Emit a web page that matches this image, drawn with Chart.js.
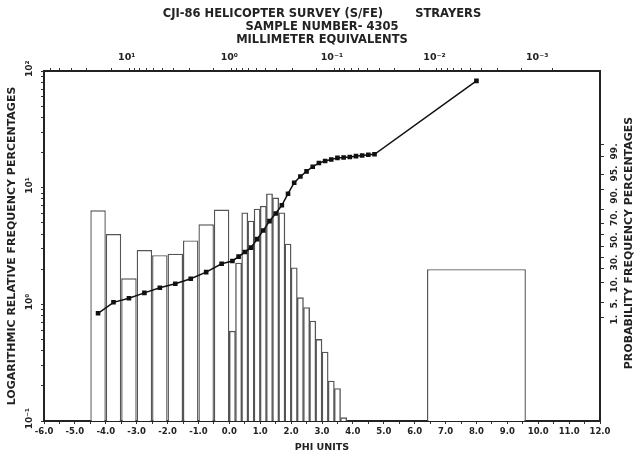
<!DOCTYPE html>
<html>
<head>
<meta charset="utf-8">
<script src="https://cdn.jsdelivr.net/npm/chart.js@4.4.1/dist/chart.umd.min.js"></script>
<style>
  html, body { margin: 0; padding: 0; background: #fff; }
  #wrap { width: 639px; height: 465px; }
</style>
</head>
<body>
<div id="wrap"><canvas id="chart"></canvas></div>
<script>
// histogram: bin centres (phi) and relative frequency (%)
const coarsePhi  = [-4.25, -3.75, -3.25, -2.75, -2.25, -1.75, -1.25, -0.75, -0.25];
const coarseFreq = [6.4, 4.0, 1.67, 2.92, 2.64, 2.72, 3.53, 4.85, 6.5];
const finePhi  = [0.1, 0.3, 0.5, 0.7, 0.9, 1.1, 1.3, 1.5, 1.7, 1.9, 2.1, 2.3, 2.5, 2.7, 2.9, 3.1, 3.3, 3.5, 3.7];
const fineFreq = [0.59, 2.26, 6.1, 5.18, 6.56, 6.95, 8.87, 8.18, 6.1, 3.29, 2.06, 1.14, 0.94, 0.72, 0.5, 0.39, 0.22, 0.19, 0.107];
const panPhi  = [8.0];
const panFreq = [2.0];
// bin widths in phi
const coarseWidth = 0.5, fineWidth = 0.2, panWidth = 3.2;

// cumulative curve (probability %)
const cumPhi = [-4.25, -3.75, -3.25, -2.75, -2.25, -1.75, -1.25, -0.75, -0.25,
  0.1, 0.3, 0.5, 0.7, 0.9, 1.1, 1.3, 1.5, 1.7, 1.9, 2.1, 2.3, 2.5, 2.7, 2.9, 3.1, 3.3, 3.5, 3.7,
  3.9, 4.1, 4.3, 4.5, 4.7, 8.0];
const cumPct = [6.2, 9.9, 11.6, 14.2, 17.0, 19.4, 22.7, 27.5, 34.2,
  36.6, 40.4, 44.5, 48.5, 56.2, 63.9, 71.5, 77.1, 82.4, 88.4, 92.6, 94.4, 95.6, 96.5, 97.1, 97.4, 97.6, 97.8, 97.85,
  97.9, 98.0, 98.07, 98.15, 98.2, 99.992];

// axis ticks
const phiMajor = [-6, -5, -4, -3, -2, -1, 0, 1, 2, 3, 4, 5, 6, 7, 8, 9, 10, 11, 12];
const freqTicks = [0.1, 1, 10, 100];
const freqLabels = ['10\u207B\u00B9', '10\u2070', '10\u00B9', '10\u00B2'];
const mmTicks = [10, 1, 0.1, 0.01, 0.001];
const mmLabels = ['10\u00B9', '10\u2070', '10\u207B\u00B9', '10\u207B\u00B2', '10\u207B\u00B3'];
const probTicks = [5, 10, 20, 30, 40, 50, 60, 70, 80, 90, 95, 98, 99];
const probText = '1.  5.  10.  30.  50.  70.  90.  95.  99.';

const FONT = '"DejaVu Sans", sans-serif';
const INK = '#222';

// inverse normal (probability paper)
function probit(pct) {
  const p = pct / 100;
  const a = [-3.969683028665376e+01, 2.209460984245205e+02, -2.759285104469687e+02, 1.383577518672690e+02, -3.066479806614716e+01, 2.506628277459239e+00];
  const b = [-5.447609879822406e+01, 1.615858368580409e+02, -1.556989798598866e+02, 6.680131188771972e+01, -1.328068155288572e+01];
  const c = [-7.784894002430293e-03, -3.223964580411365e-01, -2.400758277161838e+00, -2.549732539343734e+00, 4.374664141464968e+00, 2.938163982698783e+00];
  const d = [7.784695709041462e-03, 3.224671290700398e-01, 2.445134137142996e+00, 3.754408661907416e+00];
  const lo = 0.02425;
  let q, r;
  if (p < lo) {
    q = Math.sqrt(-2 * Math.log(p));
    return (((((c[0]*q+c[1])*q+c[2])*q+c[3])*q+c[4])*q+c[5]) / ((((d[0]*q+d[1])*q+d[2])*q+d[3])*q+1);
  }
  if (p <= 1 - lo) {
    q = p - 0.5; r = q * q;
    return (((((a[0]*r+a[1])*r+a[2])*r+a[3])*r+a[4])*r+a[5])*q / (((((b[0]*r+b[1])*r+b[2])*r+b[3])*r+b[4])*r+1);
  }
  q = Math.sqrt(-2 * Math.log(1 - p));
  return -(((((c[0]*q+c[1])*q+c[2])*q+c[3])*q+c[4])*q+c[5]) / ((((d[0]*q+d[1])*q+d[2])*q+d[3])*q+1);
}

const toPoints = (xs, ys) => xs.map((x, i) => ({ x: x, y: ys[i] }));

function barSet(xs, ys, width) {
  return {
    type: 'bar',
    data: toPoints(xs, ys),
    xAxisID: 'x',
    yAxisID: 'y',
    grouped: false,
    categoryPercentage: 1,
    barPercentage: width / fineWidth,
    backgroundColor: '#fff',
    borderColor: '#555',
    borderWidth: 1.4,
    order: 2
  };
}

// right hand probability labels, read bottom to top
const sideText = {
  id: 'sideText',
  afterDraw(chart) {
    const { ctx, chartArea } = chart;
    const cy = (chartArea.top + chartArea.bottom) / 2;
    ctx.save();
    ctx.fillStyle = INK;
    ctx.textAlign = 'center';
    ctx.textBaseline = 'middle';
    ctx.font = 'bold 9px ' + FONT;
    ctx.translate(chartArea.right + 15, cy - 12);
    ctx.rotate(-Math.PI / 2);
    ctx.fillText(probText, 0, 0);
    ctx.restore();
    ctx.save();
    ctx.fillStyle = INK;
    ctx.textAlign = 'center';
    ctx.textBaseline = 'middle';
    ctx.font = 'bold 11px ' + FONT;
    ctx.translate(chartArea.right + 29, cy - 3);
    ctx.rotate(-Math.PI / 2);
    ctx.fillText('PROBABILITY FREQUENCY PERCENTAGES', 0, 0);
    ctx.restore();
  }
};

const axisBorder = { display: true, color: INK, width: 2 };

new Chart(document.getElementById('chart'), {
  type: 'bar',
  data: {
    datasets: [
      barSet(coarsePhi, coarseFreq, coarseWidth),
      barSet(finePhi, fineFreq, fineWidth),
      barSet(panPhi, panFreq, panWidth),
      {
        type: 'line',
        data: toPoints(cumPhi, cumPct.map(probit)),
        xAxisID: 'x',
        yAxisID: 'yp',
        borderColor: '#111',
        borderWidth: 1.5,
        pointStyle: 'rect',
        pointRadius: 2.2,
        pointBackgroundColor: '#111',
        pointBorderColor: '#111',
        tension: 0,
        order: 0
      }
    ]
  },
  options: {
    responsive: true,
    maintainAspectRatio: false,
    animation: false,
    layout: { padding: 0 },
    plugins: { legend: { display: false }, tooltip: { enabled: false } },
    scales: {
      x: {
        type: 'linear', position: 'bottom', min: -6, max: 12, offset: false,
        afterBuildTicks: s => {
          const t = [];
          phiMajor.forEach((v, i) => { t.push({ value: v }); if (i < phiMajor.length - 1) t.push({ value: v + 0.5 }); });
          s.ticks = t;
        },
        ticks: {
          autoSkip: false, minRotation: 0, maxRotation: 0, padding: 3, color: INK,
          font: { family: FONT, size: 8.5, weight: 'bold' },
          callback: v => phiMajor.includes(v) ? v.toFixed(1) : ''
        },
        grid: { display: true, drawOnChartArea: false, drawTicks: true, tickLength: 3, color: '#333', offset: false },
        border: axisBorder,
        title: { display: true, text: 'PHI UNITS', color: INK, font: { family: FONT, size: 9.5, weight: 'bold', lineHeight: '11px' }, padding: { top: 0, bottom: 11.5 } },
        afterFit: s => { s.height = 44; }
      },
      x2: {
        type: 'linear', position: 'top', min: -6, max: 12, offset: false,
        afterBuildTicks: s => {
          const t = [];
          mmTicks.forEach(mm => { for (let m = 1; m <= 9; m++) { const v = -Math.log2(mm * m); if (v >= -6 && v <= 12) t.push({ value: v }); } });
          s.ticks = t.sort((a, b) => a.value - b.value);
        },
        ticks: {
          autoSkip: false, minRotation: 0, maxRotation: 0, padding: 5, color: INK,
          font: { family: FONT, size: 9.5, weight: 'bold' },
          callback: v => {
            const i = mmTicks.findIndex(mm => Math.abs(-Math.log2(mm) - v) < 1e-9);
            return i >= 0 ? mmLabels[i] : '';
          }
        },
        grid: { display: true, drawOnChartArea: false, drawTicks: true, tickLength: 3, color: '#333' },
        border: axisBorder,
        title: {
          display: true,
          text: ['CJI-86 HELICOPTER SURVEY (S/FE)        STRAYERS', 'SAMPLE NUMBER- 4305', 'MILLIMETER EQUIVALENTS'],
          color: INK, font: { family: FONT, size: 11.5, weight: 'bold', lineHeight: '13px' },
          padding: { top: 7.5, bottom: 0 }
        },
        afterFit: s => { s.height = 71; }
      },
      y: {
        type: 'logarithmic', position: 'left', min: 0.1, max: 100,
        afterBuildTicks: s => {
          const t = [];
          [0.1, 1, 10].forEach(dec => { for (let m = 1; m <= 9; m++) t.push({ value: +(dec * m).toPrecision(6) }); });
          t.push({ value: 100 });
          s.ticks = t;
        },
        ticks: {
          autoSkip: false, minRotation: 90, maxRotation: 90, crossAlign: 'center', padding: -2, color: INK,
          font: { family: FONT, size: 9, weight: 'bold' },
          callback: v => {
            const i = freqTicks.findIndex(f => Math.abs(f - v) < 1e-9);
            return i >= 0 ? '\u2002' + freqLabels[i] : '';
          }
        },
        grid: { display: true, drawOnChartArea: false, drawTicks: true, tickLength: 3, color: '#333' },
        border: axisBorder,
        title: { display: true, text: 'LOGARITHMIC RELATIVE FREQUENCY PERCENTAGES', color: INK, font: { family: FONT, size: 11, weight: 'bold', lineHeight: '12px' }, padding: { top: 6, bottom: 0 } },
        afterFit: s => { s.width = 44; }
      },
      yp: {
        type: 'linear', position: 'right', min: -4, max: 4,
        afterBuildTicks: s => { s.ticks = probTicks.map(p => ({ value: probit(p) })); },
        ticks: { autoSkip: false, padding: 0, callback: () => '' },
        grid: { display: true, drawOnChartArea: false, drawTicks: true, tickLength: 4, color: '#333' },
        border: axisBorder,
        afterFit: s => { s.width = 39; }
      }
    }
  },
  plugins: [sideText]
});
</script>
</body>
</html>
